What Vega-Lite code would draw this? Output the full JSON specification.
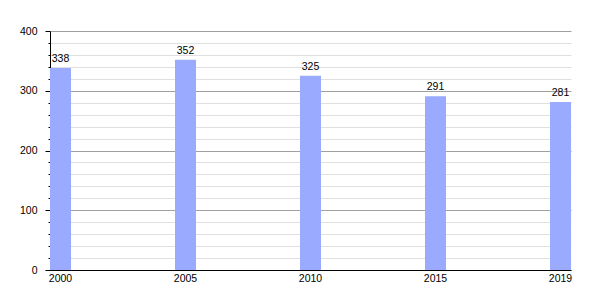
{
  "$schema": "https://vega.github.io/schema/vega-lite/v6.json",
  "width": 521,
  "height": 239,
  "autosize": {"type": "none"},
  "padding": {"left": 50, "top": 31, "right": 29, "bottom": 30},
  "background": "white",
  "config": {"view": {"stroke": null}, "font": "Liberation Sans"},
  "data": {"values": [
    {"year": "2000", "value": 338},
    {"year": "2005", "value": 352},
    {"year": "2010", "value": 325},
    {"year": "2015", "value": 291},
    {"year": "2019", "value": 281}
  ]},
  "encoding": {
    "x": {"field": "year", "type": "ordinal", "sort": null,
      "scale": {"paddingInner": 0.832, "paddingOuter": 0},
      "axis": {"title": null, "labelAngle": 0, "ticks": false, "domainColor": "#000", "labelFontSize": 10.5, "labelColor": "#000", "labelPadding": 3}},
    "y": {"field": "value", "type": "quantitative",
      "scale": {"domain": [0, 400], "nice": false},
      "axis": {"title": null, "values": [0,20,40,60,80,100,120,140,160,180,200,220,240,260,280,300,320,340,360,380,400],
        "labelExpr": "datum.value % 100 === 0 ? datum.label : ''",
        "grid": true,
        "gridColor": {"condition": {"test": "datum.value % 100 === 0", "value": "#a0a0a0"}, "value": "#e0e0e0"},
        "tickSize": {"condition": {"test": "datum.value % 100 === 0", "value": 5}, "value": 2},
        "tickColor": "#000", "domainColor": "#000", "labelFontSize": 10.5, "labelColor": "#000", "labelPadding": 8}}
  },
  "layer": [
    {"mark": {"type": "bar", "color": "#99aaff"}},
    {"mark": {"type": "text", "baseline": "alphabetic", "dy": -6, "fontSize": 10.5, "color": "#000"},
     "encoding": {"text": {"field": "value", "type": "quantitative"}}}
  ]
}
